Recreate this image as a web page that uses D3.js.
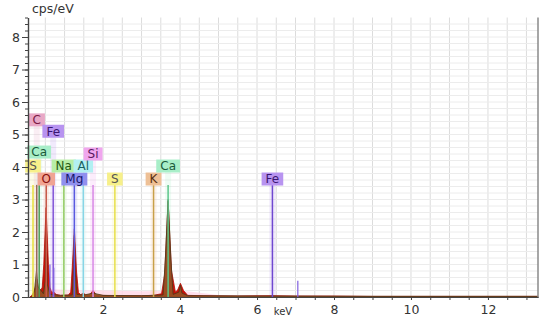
<!DOCTYPE html>
<html>
<head>
<meta charset="utf-8">
<script src="https://cdn.jsdelivr.net/npm/d3@7"></script>
<style>
  body { margin: 0; background: #fff; }
  svg text { font-family: "DejaVu Sans", Verdana, sans-serif; }
</style>
</head>
<body>
<svg id="chart" width="550" height="319"></svg>
<script>
// spectrum 1 (red): energy in keV, counts in cps/eV
var redKeV = [0.10, 0.15, 0.20, 0.24, 0.28, 0.32, 0.38, 0.42, 0.46, 0.52, 0.58, 0.62, 0.66, 0.72, 0.78, 0.90,
    1.00, 1.10, 1.16, 1.20, 1.255, 1.31, 1.36, 1.42, 1.49, 1.55, 1.66, 1.74, 1.82, 2.0, 2.3, 2.6, 3.0, 3.3,
    3.52, 3.60, 3.69, 3.78, 3.88, 3.94, 4.01, 4.09, 4.2, 4.6, 5.5, 6.4, 7.0, 8.0, 9.0, 13.3];
var redCps = [0, 0.05, 0.15, 0.3, 0.55, 0.3, 0.2, 0.3, 1.0, 2.75, 1.0, 0.3, 0.15, 0.15, 0.08, 0.05,
    0.06, 0.06, 0.15, 0.9, 2.1, 0.8, 0.14, 0.07, 0.12, 0.06, 0.08, 0.2, 0.07, 0.05, 0.04, 0.04, 0.04, 0.05,
    0.1, 0.7, 2.95, 0.8, 0.15, 0.22, 0.42, 0.2, 0.05, 0.04, 0.03, 0.04, 0.03, 0.03, 0.02, 0.02];

// spectrum 2 (olive overlay)
var oliveKeV = [0.15, 0.22, 0.27, 0.31, 0.36, 0.45, 0.50, 0.525, 0.55, 0.62, 0.9, 1.2, 1.24, 1.255, 1.27, 1.32,
    1.5, 1.74, 2.0, 3.0, 3.56, 3.62, 3.69, 3.76, 3.82, 3.97, 4.01, 4.05, 4.2, 6.0, 9.0, 13.3];
var oliveCps = [0, 0.2, 0.8, 0.3, 0.25, 0.1, 0.5, 2.0, 0.4, 0.08, 0.05, 0.06, 1.0, 1.9, 0.9, 0.08,
    0.06, 0.12, 0.05, 0.04, 0.06, 1.2, 3.0, 1.2, 0.08, 0.15, 0.36, 0.12, 0.04, 0.03, 0.02, 0.02];

// faint pink background band
var bgKeV = [0.2, 0.4, 1.0, 2.0, 3.0, 4.0, 4.4, 5.0, 8.0];
var bgCps = [0.1, 0.25, 0.22, 0.2, 0.18, 0.2, 0.15, 0.06, 0.03];

// element markers: symbol, line energy, label level (cps), colours
var elements = ["S", "Ca", "C", "O", "Fe", "Na", "Mg", "Al", "Si", "S", "K", "Ca", "Fe"];
var elementKeV = [0.18, 0.341, 0.277, 0.525, 0.705, 0.98, 1.254, 1.486, 1.74, 2.307, 3.312, 3.69, 6.40];
var labelLevel = [4.03, 4.46, 5.45, 3.63, 5.1, 4.03, 3.63, 4.03, 4.4, 3.63, 3.63, 4.03, 3.63];
var lineColor = ["#e6df3c", "#4e9e5a", "#9a6a58", "#c85a4a", "#8255d8", "#98d068", "#5a5ae0", "#86d6e6",
    "#d888e6", "#e8e04a", "#c8a048", "#5cc68a", "#7048d0"];
var boxColor = ["#f7f08a", "#a8eec8", "#e8a8c6", "#f0a493", "#b894f0", "#b8eea6", "#9090ee", "#b2f0f2",
    "#f0a6ee", "#f7f08a", "#eec096", "#a8eec8", "#b894f0"];
var textColor = ["#555", "#1a5a3a", "#7a1a44", "#8a1010", "#3a1670", "#245a14", "#16166a", "#1a6060",
    "#5a1660", "#555", "#5a3010", "#1a5a3a", "#3a1670"];

// small extra lines (Fe L and Fe Kb)
var minorKeV = [0.62, 0.72, 7.06];
var minorCps = [1.0, 0.9, 0.5];

var xTicks = [2, 4, 6, 8, 10, 12];
var yTicks = [0, 1, 2, 3, 4, 5, 6, 7, 8];

var chart = {};
chart.margins = { top: 17.5, bottom: 22, left: 28, right: 12 };

chart.init = function() {
    this.svg = d3.select("#chart");
    this.x = d3.scaleLinear().domain([0.05, 13.3]).range([this.margins.left, 550 - this.margins.right]);
    this.y = d3.scaleLinear().domain([0, 8.6]).range([319 - this.margins.bottom, this.margins.top]);
    this.drawGrid();
    this.drawSpectra();
    this.drawMarkers();
    this.drawAxes();
};

chart.drawGrid = function() {
    var x = this.x, y = this.y;
    var g = this.svg.append("g");
    g.selectAll("line.v")
        .data(d3.range(1, 27).map((i) => i * 0.5))
        .enter().append("line")
        .attr("x1", (d) => x(d)).attr("x2", (d) => x(d))
        .attr("y1", y(0)).attr("y2", y(8.6))
        .attr("stroke", "#dcdcdc").attr("stroke-width", 1);
    g.selectAll("line.h")
        .data(d3.range(1, 43).map((i) => i * 0.2))
        .enter().append("line")
        .attr("x1", x(0.05)).attr("x2", x(13.3))
        .attr("y1", (d) => y(d)).attr("y2", (d) => y(d))
        .attr("stroke", "#ececec").attr("stroke-width", 1);
};

chart.drawSpectra = function() {
    var x = this.x, y = this.y;
    var area = d3.area()
        .x((d) => x(d[0]))
        .y0(y(0))
        .y1((d) => y(d[1]));

    this.svg.append("path")
        .datum(d3.zip(bgKeV, bgCps))
        .attr("d", area)
        .attr("fill", "#ffd6e6").attr("opacity", 0.8);

    // coloured bands behind the marker lines
    this.svg.append("g").selectAll("rect")
        .data(d3.range(elements.length))
        .enter().append("rect")
        .attr("x", (i) => x(elementKeV[i]) - 3)
        .attr("width", 6)
        .attr("y", (i) => y(labelLevel[i]))
        .attr("height", (i) => y(0) - y(labelLevel[i]))
        .attr("fill", (i) => boxColor[i]).attr("opacity", 0.2);

    this.svg.append("path")
        .datum(d3.zip(redKeV, redCps))
        .attr("d", area)
        .attr("fill", "#cc1006").attr("stroke", "#b00c04").attr("stroke-width", 0.8);

    this.svg.append("path")
        .datum(d3.zip(oliveKeV, oliveCps))
        .attr("d", area)
        .attr("fill", "#7a7434").attr("opacity", 0.6);

    this.svg.append("path")
        .datum(d3.zip(oliveKeV, oliveCps))
        .attr("d", d3.line().x((d) => x(d[0])).y((d) => y(d[1])))
        .attr("fill", "none").attr("stroke", "#4a3a1c").attr("stroke-width", 0.8);
};

chart.drawMarkers = function() {
    var x = this.x, y = this.y;
    var top = 3.45;

    this.svg.append("g").selectAll("line")
        .data(d3.range(elements.length))
        .enter().append("line")
        .attr("x1", (i) => x(elementKeV[i])).attr("x2", (i) => x(elementKeV[i]))
        .attr("y1", y(0)).attr("y2", y(top))
        .attr("stroke", (i) => lineColor[i]).attr("stroke-width", 1.5);

    this.svg.append("g").selectAll("line")
        .data(d3.range(minorKeV.length))
        .enter().append("line")
        .attr("x1", (i) => x(minorKeV[i])).attr("x2", (i) => x(minorKeV[i]))
        .attr("y1", y(0)).attr("y2", (i) => y(minorCps[i]))
        .attr("stroke", "#8060e0").attr("stroke-width", 1.2);

    // label boxes
    var labels = this.svg.append("g").selectAll("g")
        .data(d3.range(elements.length))
        .enter().append("g")
        .attr("transform", (i) => `translate(${x(elementKeV[i])},${y(labelLevel[i])})`);
    labels.each(function(i) {
        var g = d3.select(this);
        var rect = g.append("rect");
        var t = g.append("text")
            .attr("text-anchor", "middle")
            .attr("dy", "0.36em")
            .attr("font-size", 12)
            .attr("fill", textColor[i])
            .text(elements[i]);
        var w = t.node().getComputedTextLength() + 8;
        rect.attr("x", -w / 2).attr("y", -6.5).attr("width", w).attr("height", 13)
            .attr("fill", boxColor[i]);
    });
};

chart.drawAxes = function() {
    var x = this.x, y = this.y;
    var svg = this.svg;

    // right border
    svg.append("line")
        .attr("x1", x(13.3)).attr("x2", x(13.3))
        .attr("y1", y(0)).attr("y2", y(8.6))
        .attr("stroke", "#8a8a8a").attr("stroke-width", 1.5);

    var yMinor = svg.append("g").attr("transform", `translate(${x(0.05)},0)`);
    yMinor.call(d3.axisLeft(y).tickValues(d3.range(0, 44).map((i) => i * 0.2)).tickSize(3)
        .tickFormat("").tickSizeOuter(0));
    var yAxis = svg.append("g").attr("transform", `translate(${x(0.05)},0)`);
    yAxis.call(d3.axisLeft(y).tickValues(yTicks).tickSize(6).tickPadding(2).tickSizeOuter(0));

    var xMinor = svg.append("g").attr("transform", `translate(0,${y(0)})`);
    xMinor.call(d3.axisBottom(x).tickValues(d3.range(1, 27).map((i) => i * 0.5)).tickSize(3)
        .tickFormat("").tickSizeOuter(0));
    var xAxis = svg.append("g").attr("transform", `translate(0,${y(0)})`);
    xAxis.call(d3.axisBottom(x).tickValues(xTicks).tickSize(3).tickPadding(5).tickSizeOuter(0));

    svg.selectAll(".domain").attr("stroke", "#444").attr("stroke-width", 1.2);
    svg.selectAll(".tick line").attr("stroke", "#444");
    svg.selectAll(".tick text").attr("font-size", 12.5).attr("fill", "#333")
        .attr("font-family", "DejaVu Sans, Verdana, sans-serif");

    svg.append("text")
        .attr("x", 32).attr("y", 13)
        .attr("font-size", 12.5).attr("fill", "#333")
        .text("cps/eV");

    svg.append("text")
        .attr("x", 283).attr("y", 315)
        .attr("text-anchor", "middle")
        .attr("font-size", 10).attr("fill", "#333")
        .text("keV");
};

chart.init();
</script>
</body>
</html>
